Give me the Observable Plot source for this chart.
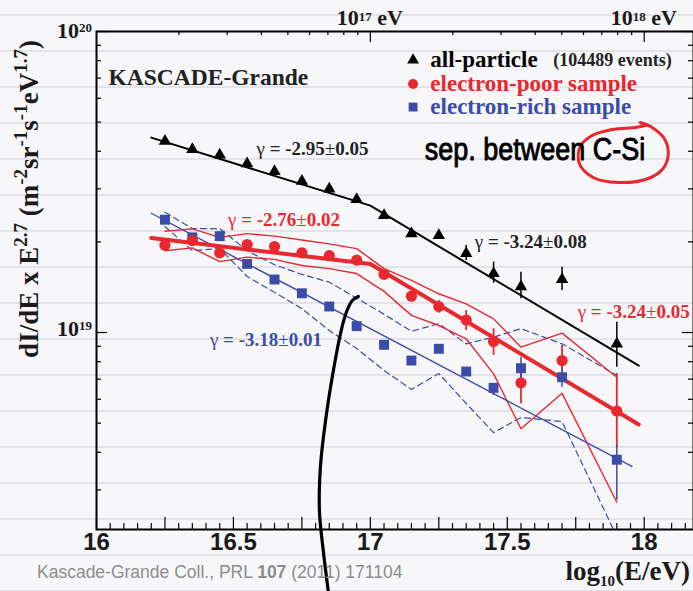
<!DOCTYPE html>
<html><head><meta charset="utf-8">
<script src="https://cdn.jsdelivr.net/npm/d3@7"></script>
<script src="https://cdn.jsdelivr.net/npm/@observablehq/plot@0.6"></script>
<style>
html,body{margin:0;padding:0;}
body{width:693px;height:591px;overflow:hidden;background-color:#f7f7fa;
background-image:repeating-linear-gradient(to bottom, rgba(0,0,0,0) 0px, rgba(0,0,0,0) 14px, #e2e2e8 14px, #e2e2e8 16px, rgba(0,0,0,0) 16px, rgba(0,0,0,0) 36px);}
#chart{position:relative;width:693px;height:591px;}
</style></head><body><div id="chart"></div>
<script>
// ---------- data ----------
const energyBins = [16.25,16.35,16.45,16.55,16.65,16.75,16.85,16.95,17.05,17.15,17.25,17.35,17.45,17.55,17.7,17.9];
const allParticle  = [4.32e19,4.06e19,3.89e19,3.64e19,3.43e19,3.18e19,3.00e19,2.77e19,2.45e19,2.13e19,2.10e19,1.83e19,1.57e19,1.42e19,1.50e19,9.17e18];
const electronPoor = [1.95e19,2.02e19,1.84e19,1.96e19,1.93e19,1.84e19,1.80e19,1.74e19,1.56e19,1.32e19,1.22e19,1.10e19,9.34e18,6.81e18,8.07e18,5.48e18];
const electronRich = [2.37e19,2.07e19,2.09e19,1.69e19,1.50e19,1.35e19,1.22e19,1.05e19,9.10e18,8.07e18,8.83e18,7.42e18,6.55e18,7.61e18,7.10e18,3.78e18];
const poorSysUpper = [2.17e19,2.21e19,2.07e19,2.13e19,2.09e19,2.03e19,1.97e19,1.90e19,1.63e19,1.49e19,1.345e19,1.245e19,1.11e19,8.94e18,9.95e18,7.10e18];
const poorSysLower = [1.87e19,1.91e19,1.72e19,1.78e19,1.75e19,1.67e19,1.63e19,1.57e19,1.37e19,1.14e19,1.055e19,9.53e18,7.29e18,4.79e18,6.28e18,2.73e18];
const richSysUpper = [2.51e19,2.215e19,2.215e19,1.87e19,1.68e19,1.56e19,1.47e19,1.30e19,1.15e19,1.01e19,1.07e19,9.17e18,9.65e18,1.03e19,9.17e18,7.20e18];
const richSysLower = [2.25e19,1.87e19,1.90e19,1.535e19,1.36e19,1.20e19,1.015e19,8.85e18,7.48e18,6.47e18,7.31e18,5.81e18,4.65e18,5.22e18,5.06e18,2.1e18];

const allErrBins = [17.35,17.45,17.55,17.7,17.9];
const allErrLow  = [1.735e19,1.458e19,1.294e19,1.379e19,7.67e18];
const allErrHigh = [1.945e19,1.712e19,1.586e19,1.648e19,1.082e19];
const poorErrBins = [17.25,17.35,17.45,17.55,17.7,17.9];
const poorErrLow  = [1.159e19,1.015e19,8.39e18,5.80e18,7.10e18,4.15e18];
const poorErrHigh = [1.277e19,1.183e19,1.029e19,7.77e18,9.05e18,7.31e18];
const richErrBins = [17.45,17.55,17.7,17.9];
const richErrLow  = [6.18e18,7.09e18,6.58e18,2.77e18];
const richErrHigh = [6.77e18,8.26e18,7.67e18,4.21e18];

const fitAllX  = [16.2, 17.0, 17.98];   const fitAllY  = [4.44e19, 2.64e19, 7.76e18];
const fitPoorX = [16.2, 17.0, 17.98];   const fitPoorY = [2.06e19, 1.69e19, 4.95e18];
const fitRichX = [16.2, 17.955];        const fitRichY = [2.49e19, 3.59e18];

const gammaValues = ["-2.95","-2.76","-3.18","-3.24","-3.24"];
const gammaErrors = ["0.05","0.02","0.01","0.08","0.05"];
const gammaX = [16.586,16.482,16.416,17.383,17.759];
const gammaY = [4.05e19,2.355e19,9.4e18,1.995e19,1.168e19];
const gammaSeries = ["all","poor","rich","all","poor"];

const legendLabels = ["all-particle","electron-poor sample","electron-rich sample"];
const legendSeries = ["all","poor","rich"];
const legendY = [8.04e19,6.69e19,5.61e19];
const legendSymbolX = 17.156, legendTextX = 17.219, eventsX = 17.668;
const eventsNote = "(104489 events)";

const xTickLabels = [16, 16.5, 17, 17.5, 18];
const yTickValues = [1e20, 1e19];
const yTickExponents = ["20", "19"];
const topTickValues = [17, 18];
const topTickExponents = ["17", "18"];

// hand-written annotations (in data units)
const noteText = "sep. between C-Si";
const noteX = 17.2007, noteY = 4.03e19;
const penCurveX = [16.956,16.934,16.912,16.891,16.865,16.839,16.818,16.814,16.828,16.847];
const penCurveY = [1.317e19,1.277e19,1.165e19,9.92e18,7.48e18,5.30e18,3.61e18,2.56e18,1.887e18,1.368e18];
const penLoopX = [17.985,18.029,18.073,18.088,18.069,18.015,17.905,17.814,17.763,17.766,17.810,17.883,17.967,18.004];
const penLoopY = [4.985e19,4.80e19,4.41e19,3.933e19,3.506e19,3.248e19,3.150e19,3.273e19,3.643e19,4.148e19,4.513e19,4.725e19,4.80e19,4.872e19];

// ---------- styling ----------
const serif = "'Liberation Serif','Times New Roman',serif";
const sans = "'Liberation Sans',Arial,sans-serif";
const colors = {all: "#000000", poor: "#e8282e", rich: "#3b4ca8"};
const W = 693, H = 591, mL = 96, mT = 31, mB = 62, mR = 0;
const frameH = H - mT - mB, frameW = W - mL - mR;

const pts = ys => energyBins.map((x, i) => ({x, y: ys[i]}));
const xy = (xs, ys) => xs.map((x, i) => ({x, y: ys[i]}));
const errs = (b, lo, hi) => b.map((x, i) => ({x, lo: lo[i], hi: hi[i]}));

const xMinor = d3.range(0, 44).map(i => 16 + i * 0.05).filter(v => Math.abs(v * 4 - Math.round(v * 4)) > 1e-6);
const xMid = d3.range(0, 9).map(i => 16 + i * 0.25);
const topMinor = [16, 17].flatMap(d => d3.range(2, 10).map(n => d + Math.log10(n)));
const yMinor = [18, 19].flatMap(d => d3.range(2, 10).map(n => n * 10 ** d)).filter(v => v > 2.22e18 && v < 1e20);
const yMajor = [1e19, 1e20];

const tick = {stroke: "black", strokeWidth: 1.2};

const plot = Plot.plot({
  width: W, height: H,
  marginLeft: mL, marginTop: mT, marginBottom: mB, marginRight: mR,
  style: {background: "transparent", overflow: "visible", fontFamily: serif},
  x: {domain: [16, 18.18], axis: null},
  y: {type: "log", domain: [2.216e18, 1e20], axis: null},
  marks: [
    // systematic bands
    Plot.line(pts(richSysUpper), {x: "x", y: "y", stroke: colors.rich, strokeWidth: 1.2, strokeDasharray: "6,4", clip: true}),
    Plot.line(pts(richSysLower), {x: "x", y: "y", stroke: colors.rich, strokeWidth: 1.2, strokeDasharray: "6,4", clip: true}),
    Plot.line(pts(poorSysUpper), {x: "x", y: "y", stroke: colors.poor, strokeWidth: 1.4, clip: true}),
    Plot.line(pts(poorSysLower), {x: "x", y: "y", stroke: colors.poor, strokeWidth: 1.4, clip: true}),
    // fits
    Plot.line(xy(fitRichX, fitRichY), {x: "x", y: "y", stroke: colors.rich, strokeWidth: 1.4}),
    Plot.line(xy(fitAllX, fitAllY), {x: "x", y: "y", stroke: colors.all, strokeWidth: 2}),
    Plot.line(xy(fitPoorX, fitPoorY), {x: "x", y: "y", stroke: colors.poor, strokeWidth: 4}),
    // error bars
    Plot.ruleX(errs(allErrBins, allErrLow, allErrHigh), {x: "x", y1: "lo", y2: "hi", stroke: colors.all, strokeWidth: 1.5}),
    Plot.ruleX(errs(poorErrBins, poorErrLow, poorErrHigh), {x: "x", y1: "lo", y2: "hi", stroke: colors.poor, strokeWidth: 1.8}),
    Plot.ruleX(errs(richErrBins, richErrLow, richErrHigh), {x: "x", y1: "lo", y2: "hi", stroke: colors.rich, strokeWidth: 1.5}),
    // points
    Plot.dot(pts(electronRich), {x: "x", y: "y", symbol: "square", r: 5.6, fill: colors.rich}),
    Plot.dot(pts(allParticle), {x: "x", y: "y", symbol: "triangle", r: 4.6, fill: colors.all}),
    Plot.dot(pts(electronPoor), {x: "x", y: "y", symbol: "circle", r: 5.6, fill: colors.poor}),
    // frame and ticks
    Plot.frame({stroke: "black", strokeWidth: 2}),
    Plot.ruleX(xMinor, {x: d => d, insetTop: frameH - 6, ...tick}),
    Plot.ruleX(xMid, {x: d => d, insetTop: frameH - 12, ...tick}),
    Plot.ruleX(topMinor, {x: d => d, insetBottom: frameH - 4, ...tick}),
    Plot.ruleX(topTickValues, {x: d => d, insetBottom: frameH - 11, ...tick}),
    Plot.ruleY(yMinor, {y: d => d, insetRight: frameW - 5, ...tick}),
    Plot.ruleY(yMajor, {y: d => d, insetRight: frameW - 11, ...tick}),
    Plot.ruleY(yMinor, {y: d => d, insetLeft: frameW - 5, ...tick}),
    Plot.ruleY(yMajor, {y: d => d, insetLeft: frameW - 11, ...tick}),
    Plot.text(xTickLabels, {x: d => d, text: d => String(d), frameAnchor: "bottom", dy: 20,
      fontSize: 24, fontFamily: sans, fontWeight: "bold", fill: "#1a1a1a"}),
    // title
    Plot.text(["KASCADE-Grande"], {frameAnchor: "top-left", dx: 12, dy: 37, textAnchor: "start",
      fontSize: 23.5, fontWeight: "bold", fontFamily: serif, fill: "#222"}),
    // legend
    Plot.dot([0], {x: () => legendSymbolX, y: () => legendY[0], symbol: "triangle", r: 4.4, fill: colors.all}),
    Plot.dot([0], {x: () => legendSymbolX, y: () => legendY[1], symbol: "circle", r: 5, fill: colors.poor}),
    Plot.dot([0], {x: () => legendSymbolX, y: () => legendY[2], symbol: "square", r: 5, fill: colors.rich}),
    Plot.text(legendLabels, {x: () => legendTextX, y: (d, i) => legendY[i], text: d => d, textAnchor: "start",
      fill: (d, i) => colors[legendSeries[i]], fontSize: 23, fontWeight: "bold", fontFamily: serif}),
    Plot.text([eventsNote], {x: () => eventsX, y: () => legendY[0], text: d => d, textAnchor: "start",
      fill: "#222", fontSize: 18, fontWeight: "bold", fontFamily: serif}),
    // hand annotations (curves)
    Plot.line(xy(penLoopX, penLoopY), {x: "x", y: "y", stroke: "#e8282e", strokeWidth: 3, curve: "catmull-rom"}),
    Plot.line(xy(penCurveX, penCurveY), {x: "x", y: "y", stroke: "black", strokeWidth: 3.2, curve: "catmull-rom"})
  ],
  color: {type: "identity"}
});

document.getElementById("chart").appendChild(plot);

// ---------- rich text (super/subscripts) ----------
const sx = plot.scale("x"), sy = plot.scale("y");
const g = d3.select(plot).append("g");
function rich(parts, o) {
  const t = g.append("text").attr("x", o.x || 0).attr("y", o.y || 0)
    .attr("font-family", o.family || serif).attr("font-weight", o.weight || "bold")
    .attr("font-size", o.size).attr("fill", o.fill || "black")
    .attr("text-anchor", o.anchor || "start");
  if (o.transform) t.attr("transform", o.transform);
  let shift = 0;
  for (const p of parts) {
    const s = t.append("tspan").text(p.t).attr("font-size", p.size || o.size);
    const target = p.shift || 0;
    if (target !== shift) { s.attr("dy", target - shift); shift = target; }
    if (p.weight) s.attr("font-weight", p.weight);
  }
  return t;
}

// y tick labels
const yLabelDrop = [7, 3.5];
yTickValues.forEach((v, i) => rich([{t: "10"}, {t: yTickExponents[i], size: 13, shift: -6}],
  {x: mL - 4, y: sy.apply(v) + yLabelDrop[i], size: 22, anchor: "end", fill: "#1a1a1a"}));

// top energy labels
topTickValues.forEach((v, i) => rich([{t: "10"}, {t: topTickExponents[i], size: 13, shift: -4}, {t: " eV", shift: 0}],
  {x: sx.apply(v), y: 25, size: 22, anchor: "middle", fill: "#1a1a1a"}));

// gamma labels
gammaValues.forEach((v, i) => rich([{t: "γ", weight: "normal"}, {t: " = " + v}, {t: "±", weight: "normal"}, {t: gammaErrors[i]}],
  {x: sx.apply(gammaX[i]), y: sy.apply(gammaY[i]) + 6, size: 19, fill: gammaSeries[i] === "all" ? "#222" : colors[gammaSeries[i]]}));

// y axis title
rich([{t: "dI/dE x E"}, {t: "2.7", size: 19, shift: -11}, {t: " (m", shift: 0}, {t: "-2", size: 19, shift: -11},
      {t: "sr", shift: 0}, {t: "-1", size: 19, shift: -11}, {t: "s", shift: 0}, {t: "-1", size: 19, shift: -11},
      {t: "eV", shift: 0}, {t: "1.7", size: 19, shift: -11}, {t: ")", shift: 0}],
  {size: 27, anchor: "middle", transform: "translate(38,199) rotate(-90)", fill: "#1a1a1a"});

// x axis title
rich([{t: "log"}, {t: "10", size: 15, shift: 6}, {t: "(E/eV)", shift: 0}],
  {x: 690, y: 580, size: 27, anchor: "end", fill: "#1a1a1a"});

// reference line
rich([{t: "Kascade-Grande Coll., PRL "}, {t: "107", weight: "bold"}, {t: " (2011) 171104"}],
  {x: 37, y: 578, size: 17.5, family: sans, weight: "normal", fill: "#8c8c8c"});

// hand-written note (narrowed)
rich([{t: noteText}],
  {size: 31, family: sans, weight: "normal", fill: "black",
   transform: `translate(${sx.apply(noteX)},${sy.apply(noteY) + 10}) scale(0.87,1)`})
  .attr("stroke", "black").attr("stroke-width", 0.9).attr("stroke-linejoin", "round");
</script>
</body></html>
